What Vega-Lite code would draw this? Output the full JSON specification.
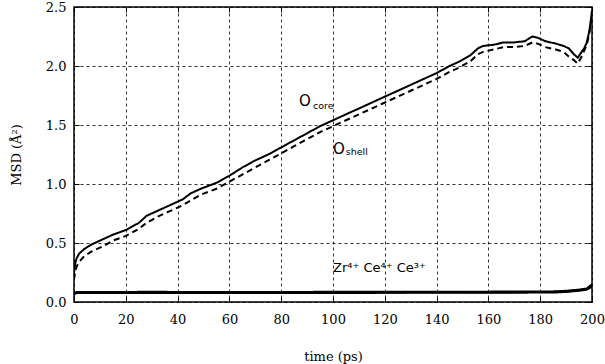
{
  "$schema": "https://vega.github.io/schema/vega-lite/v6.json",
  "width": 518,
  "height": 295,
  "autosize": {"type": "none"},
  "padding": {"left": 74, "top": 7, "right": 13, "bottom": 62},
  "background": "white",
  "config": {
    "view": {"stroke": "black", "strokeWidth": 1.5},
    "axis": {
      "labelFont": "DejaVu Serif",
      "labelFontSize": 13,
      "labelColor": "black",
      "labelFlush": false,
      "titleFont": "DejaVu Serif",
      "titleFontSize": 13,
      "titleFontWeight": "normal",
      "titleColor": "black",
      "domain": false,
      "tickColor": "black",
      "tickWidth": 1,
      "gridColor": "black",
      "gridDash": [3, 3],
      "gridWidth": 0.8,
      "gridOpacity": 1
    }
  },
  "datasets": {
    "curves": [
      {"t": 0, "msd": 0.25, "series": "core"},
      {"t": 0.5, "msd": 0.33, "series": "core"},
      {"t": 1, "msd": 0.37, "series": "core"},
      {"t": 2, "msd": 0.41, "series": "core"},
      {"t": 4, "msd": 0.45, "series": "core"},
      {"t": 7, "msd": 0.49, "series": "core"},
      {"t": 11, "msd": 0.53, "series": "core"},
      {"t": 15, "msd": 0.57, "series": "core"},
      {"t": 20, "msd": 0.61, "series": "core"},
      {"t": 25, "msd": 0.67, "series": "core"},
      {"t": 28, "msd": 0.73, "series": "core"},
      {"t": 32, "msd": 0.77, "series": "core"},
      {"t": 37, "msd": 0.82, "series": "core"},
      {"t": 42, "msd": 0.87, "series": "core"},
      {"t": 45, "msd": 0.92, "series": "core"},
      {"t": 49, "msd": 0.96, "series": "core"},
      {"t": 55, "msd": 1.01, "series": "core"},
      {"t": 60, "msd": 1.07, "series": "core"},
      {"t": 65, "msd": 1.14, "series": "core"},
      {"t": 70, "msd": 1.2, "series": "core"},
      {"t": 75, "msd": 1.25, "series": "core"},
      {"t": 80, "msd": 1.31, "series": "core"},
      {"t": 85, "msd": 1.37, "series": "core"},
      {"t": 90, "msd": 1.43, "series": "core"},
      {"t": 95, "msd": 1.49, "series": "core"},
      {"t": 100, "msd": 1.54, "series": "core"},
      {"t": 105, "msd": 1.59, "series": "core"},
      {"t": 110, "msd": 1.64, "series": "core"},
      {"t": 115, "msd": 1.69, "series": "core"},
      {"t": 119, "msd": 1.73, "series": "core"},
      {"t": 125, "msd": 1.79, "series": "core"},
      {"t": 130, "msd": 1.84, "series": "core"},
      {"t": 135, "msd": 1.89, "series": "core"},
      {"t": 140, "msd": 1.94, "series": "core"},
      {"t": 145, "msd": 2.0, "series": "core"},
      {"t": 149, "msd": 2.04, "series": "core"},
      {"t": 153, "msd": 2.09, "series": "core"},
      {"t": 156, "msd": 2.15, "series": "core"},
      {"t": 158, "msd": 2.17, "series": "core"},
      {"t": 162, "msd": 2.18, "series": "core"},
      {"t": 166, "msd": 2.2, "series": "core"},
      {"t": 170, "msd": 2.2, "series": "core"},
      {"t": 174, "msd": 2.21, "series": "core"},
      {"t": 177, "msd": 2.25, "series": "core"},
      {"t": 179, "msd": 2.24, "series": "core"},
      {"t": 182, "msd": 2.21, "series": "core"},
      {"t": 186, "msd": 2.19, "series": "core"},
      {"t": 189, "msd": 2.17, "series": "core"},
      {"t": 191, "msd": 2.15, "series": "core"},
      {"t": 193, "msd": 2.1, "series": "core"},
      {"t": 194.5, "msd": 2.07, "series": "core"},
      {"t": 196, "msd": 2.12, "series": "core"},
      {"t": 197, "msd": 2.15, "series": "core"},
      {"t": 198, "msd": 2.2, "series": "core"},
      {"t": 199, "msd": 2.3, "series": "core"},
      {"t": 199.5, "msd": 2.38, "series": "core"},
      {"t": 200, "msd": 2.47, "series": "core"},

      {"t": 0, "msd": 0.19, "series": "shell"},
      {"t": 0.5, "msd": 0.26, "series": "shell"},
      {"t": 1, "msd": 0.3, "series": "shell"},
      {"t": 2, "msd": 0.34, "series": "shell"},
      {"t": 4, "msd": 0.39, "series": "shell"},
      {"t": 7, "msd": 0.43, "series": "shell"},
      {"t": 11, "msd": 0.47, "series": "shell"},
      {"t": 15, "msd": 0.52, "series": "shell"},
      {"t": 20, "msd": 0.56, "series": "shell"},
      {"t": 25, "msd": 0.62, "series": "shell"},
      {"t": 28, "msd": 0.67, "series": "shell"},
      {"t": 32, "msd": 0.72, "series": "shell"},
      {"t": 37, "msd": 0.77, "series": "shell"},
      {"t": 42, "msd": 0.82, "series": "shell"},
      {"t": 45, "msd": 0.86, "series": "shell"},
      {"t": 49, "msd": 0.91, "series": "shell"},
      {"t": 55, "msd": 0.96, "series": "shell"},
      {"t": 60, "msd": 1.02, "series": "shell"},
      {"t": 65, "msd": 1.08, "series": "shell"},
      {"t": 70, "msd": 1.14, "series": "shell"},
      {"t": 75, "msd": 1.2, "series": "shell"},
      {"t": 80, "msd": 1.26, "series": "shell"},
      {"t": 85, "msd": 1.32, "series": "shell"},
      {"t": 90, "msd": 1.38, "series": "shell"},
      {"t": 95, "msd": 1.44, "series": "shell"},
      {"t": 100, "msd": 1.49, "series": "shell"},
      {"t": 105, "msd": 1.54, "series": "shell"},
      {"t": 110, "msd": 1.59, "series": "shell"},
      {"t": 115, "msd": 1.64, "series": "shell"},
      {"t": 119, "msd": 1.68, "series": "shell"},
      {"t": 125, "msd": 1.74, "series": "shell"},
      {"t": 130, "msd": 1.79, "series": "shell"},
      {"t": 135, "msd": 1.84, "series": "shell"},
      {"t": 140, "msd": 1.89, "series": "shell"},
      {"t": 145, "msd": 1.95, "series": "shell"},
      {"t": 149, "msd": 1.99, "series": "shell"},
      {"t": 153, "msd": 2.04, "series": "shell"},
      {"t": 156, "msd": 2.1, "series": "shell"},
      {"t": 158, "msd": 2.12, "series": "shell"},
      {"t": 162, "msd": 2.14, "series": "shell"},
      {"t": 166, "msd": 2.16, "series": "shell"},
      {"t": 170, "msd": 2.16, "series": "shell"},
      {"t": 174, "msd": 2.17, "series": "shell"},
      {"t": 177, "msd": 2.2, "series": "shell"},
      {"t": 179, "msd": 2.19, "series": "shell"},
      {"t": 182, "msd": 2.16, "series": "shell"},
      {"t": 186, "msd": 2.14, "series": "shell"},
      {"t": 189, "msd": 2.12, "series": "shell"},
      {"t": 191, "msd": 2.08, "series": "shell"},
      {"t": 193, "msd": 2.05, "series": "shell"},
      {"t": 194.5, "msd": 2.02, "series": "shell"},
      {"t": 196, "msd": 2.08, "series": "shell"},
      {"t": 197, "msd": 2.13, "series": "shell"},
      {"t": 198, "msd": 2.18, "series": "shell"},
      {"t": 199, "msd": 2.28, "series": "shell"},
      {"t": 199.5, "msd": 2.36, "series": "shell"},
      {"t": 200, "msd": 2.46, "series": "shell"},

      {"t": 0, "msd": 0.07, "series": "Zr"},
      {"t": 1, "msd": 0.08, "series": "Zr"},
      {"t": 30, "msd": 0.081, "series": "Zr"},
      {"t": 60, "msd": 0.08, "series": "Zr"},
      {"t": 100, "msd": 0.081, "series": "Zr"},
      {"t": 150, "msd": 0.082, "series": "Zr"},
      {"t": 185, "msd": 0.085, "series": "Zr"},
      {"t": 190, "msd": 0.09, "series": "Zr"},
      {"t": 195, "msd": 0.1, "series": "Zr"},
      {"t": 198, "msd": 0.11, "series": "Zr"},
      {"t": 200, "msd": 0.14, "series": "Zr"},

      {"t": 0, "msd": 0.075, "series": "Ce4"},
      {"t": 1, "msd": 0.085, "series": "Ce4"},
      {"t": 30, "msd": 0.086, "series": "Ce4"},
      {"t": 60, "msd": 0.085, "series": "Ce4"},
      {"t": 100, "msd": 0.086, "series": "Ce4"},
      {"t": 150, "msd": 0.087, "series": "Ce4"},
      {"t": 185, "msd": 0.09, "series": "Ce4"},
      {"t": 190, "msd": 0.095, "series": "Ce4"},
      {"t": 195, "msd": 0.105, "series": "Ce4"},
      {"t": 198, "msd": 0.115, "series": "Ce4"},
      {"t": 200, "msd": 0.15, "series": "Ce4"},

      {"t": 0, "msd": 0.065, "series": "Ce3"},
      {"t": 1, "msd": 0.076, "series": "Ce3"},
      {"t": 30, "msd": 0.077, "series": "Ce3"},
      {"t": 60, "msd": 0.076, "series": "Ce3"},
      {"t": 100, "msd": 0.077, "series": "Ce3"},
      {"t": 150, "msd": 0.078, "series": "Ce3"},
      {"t": 185, "msd": 0.08, "series": "Ce3"},
      {"t": 190, "msd": 0.085, "series": "Ce3"},
      {"t": 195, "msd": 0.095, "series": "Ce3"},
      {"t": 198, "msd": 0.105, "series": "Ce3"},
      {"t": 200, "msd": 0.13, "series": "Ce3"}
    ],
    "bigText": [
      {"t": 89.2, "msd": 1.7, "text": "O"},
      {"t": 102.3, "msd": 1.3, "text": "O"}
    ],
    "smallText": [
      {"t": 92.3, "msd": 1.66, "text": "core"},
      {"t": 104.9, "msd": 1.27, "text": "shell"}
    ],
    "ions": [
      {"t": 100, "msd": 0.29, "text": "Zr⁴⁺ Ce⁴⁺ Ce³⁺"}
    ]
  },
  "resolve": {"axis": {"x": "independent", "y": "independent"}},
  "layer": [
    {
      "data": {"name": "curves"},
      "mark": {"type": "line", "color": "black", "strokeWidth": 2, "clip": true},
      "encoding": {
        "x": {
          "field": "t", "type": "quantitative",
          "scale": {"domain": [0, 200], "nice": false, "zero": false},
          "axis": {
            "orient": "bottom", "title": "time (ps)", "values": [0, 20, 40, 60, 80, 100, 120, 140, 160, 180, 200],
            "grid": true, "tickSize": -5, "labelPadding": 16, "titlePadding": 24
          }
        },
        "y": {
          "field": "msd", "type": "quantitative",
          "scale": {"domain": [0, 2.5], "nice": false},
          "axis": {
            "orient": "left", "title": "MSD (Å²)", "values": [0, 0.5, 1, 1.5, 2, 2.5], "format": ".1f",
            "grid": true, "tickSize": -5, "labelPadding": 13, "titlePadding": 22
          }
        },
        "detail": {"field": "series"},
        "strokeDash": {
          "field": "series", "type": "nominal",
          "scale": {"domain": ["core", "shell", "Zr", "Ce4", "Ce3"], "range": [[1, 0], [6, 4], [1, 0], [1, 0], [1, 0]]},
          "legend": null
        }
      }
    },
    {
      "data": {"name": "curves"},
      "mark": {"type": "line", "strokeOpacity": 0},
      "encoding": {
        "x": {
          "field": "t", "type": "quantitative",
          "axis": {"orient": "top", "title": null, "labels": false, "grid": false, "tickSize": -5, "values": [0, 20, 40, 60, 80, 100, 120, 140, 160, 180, 200]}
        },
        "y": {
          "field": "msd", "type": "quantitative",
          "axis": {"orient": "right", "title": null, "labels": false, "grid": false, "tickSize": -5, "values": [0, 0.5, 1, 1.5, 2, 2.5]}
        },
        "detail": {"field": "series"}
      }
    },
    {
      "data": {"name": "bigText"},
      "mark": {"type": "text", "font": "DejaVu Sans", "fontSize": 15, "align": "center", "baseline": "middle", "color": "black"},
      "encoding": {
        "x": {"field": "t", "type": "quantitative", "axis": null},
        "y": {"field": "msd", "type": "quantitative", "axis": null},
        "text": {"field": "text"}
      }
    },
    {
      "data": {"name": "smallText"},
      "mark": {"type": "text", "font": "DejaVu Sans", "fontSize": 9.5, "align": "left", "baseline": "middle", "color": "black"},
      "encoding": {
        "x": {"field": "t", "type": "quantitative", "axis": null},
        "y": {"field": "msd", "type": "quantitative", "axis": null},
        "text": {"field": "text"}
      }
    },
    {
      "data": {"name": "ions"},
      "mark": {"type": "text", "font": "DejaVu Sans", "fontSize": 13, "align": "left", "baseline": "middle", "color": "black"},
      "encoding": {
        "x": {"field": "t", "type": "quantitative", "axis": null},
        "y": {"field": "msd", "type": "quantitative", "axis": null},
        "text": {"field": "text"}
      }
    }
  ]
}
